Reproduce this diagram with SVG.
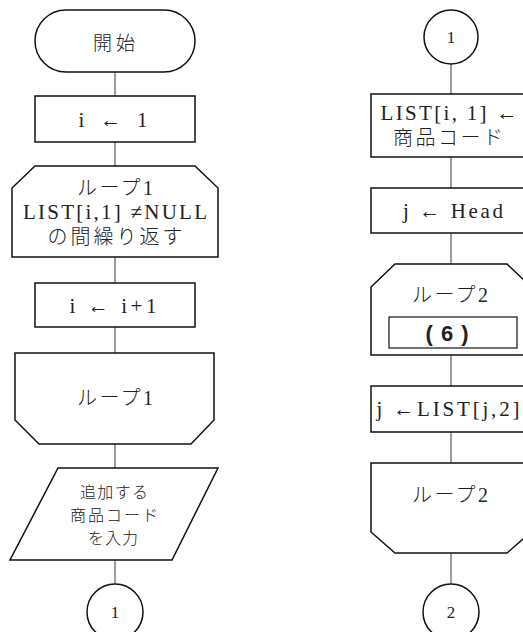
<svg xmlns="http://www.w3.org/2000/svg" width="523" height="632" viewBox="0 0 523 632">
<style>
.s{fill:#fff;stroke:#111;stroke-width:1.5}
.c{stroke:#666;stroke-width:1.3;fill:none}
text{font-family:"Liberation Serif","Noto Sans CJK JP",serif;font-size:20px;font-weight:300;fill:#222;text-anchor:middle;dominant-baseline:central}
.l{font-size:21px}
.g{font-family:"Noto Sans CJK JP",sans-serif;font-size:16px;font-weight:300}
.n{font-size:17px}
.b{font-weight:bold;font-family:"Liberation Sans","Noto Sans CJK JP",sans-serif;font-size:22px}
</style>
<rect width="523" height="632" fill="#fff"/>
<g id="connectors">
<line class="c" x1="115" y1="72" x2="115" y2="96"/>
<line class="c" x1="115" y1="142" x2="115" y2="166"/>
<line class="c" x1="115" y1="257" x2="115" y2="283"/>
<line class="c" x1="115" y1="327" x2="115" y2="353"/>
<line class="c" x1="115" y1="444" x2="115" y2="468"/>
<line class="c" x1="115" y1="560" x2="115" y2="584"/>
<line class="c" x1="451" y1="64" x2="451" y2="94"/>
<line class="c" x1="451" y1="157" x2="451" y2="188"/>
<line class="c" x1="451" y1="233" x2="451" y2="264"/>
<line class="c" x1="451" y1="355" x2="451" y2="386"/>
<line class="c" x1="451" y1="432" x2="451" y2="463"/>
<line class="c" x1="451" y1="553" x2="451" y2="584"/>
</g>
<g id="start">
<rect class="s" x="35" y="10" width="160" height="62" rx="31"/>
<text class="g" style="font-size:19px" x="114" y="41" textLength="42" lengthAdjust="spacing">開始</text>
</g>
<g id="init">
<rect class="s" x="35" y="96" width="160" height="46"/>
<text class="l" x="113" y="120" textLength="69" lengthAdjust="spacing">i ← 1</text>
</g>
<g id="loop1start">
<polygon class="s" points="35,166 195,166 218,188 218,257 12,257 12,188"/>
<text x="115" y="188" textLength="76" lengthAdjust="spacing">ループ1</text>
<text class="l" x="115" y="212" textLength="184" lengthAdjust="spacing">LIST[i,1] ≠NULL</text>
<text x="115" y="237" textLength="135" lengthAdjust="spacing">の間繰り返す</text>
</g>
<g id="incr">
<rect class="s" x="35" y="283" width="160" height="44"/>
<text class="l" x="113" y="306" textLength="87" lengthAdjust="spacing">i ← i+1</text>
</g>
<g id="loop1end">
<polygon class="s" points="15,353 214,353 214,420 191,444 39,444 15,420"/>
<text x="115" y="398" textLength="76" lengthAdjust="spacing">ループ1</text>
</g>
<g id="input">
<polygon class="s" points="58,468 218,468 172,560 10,560"/>
<text class="g" x="114" y="491" textLength="68" lengthAdjust="spacing">追加する</text>
<text class="g" x="114" y="514" textLength="88" lengthAdjust="spacing">商品コード</text>
<text class="g" x="113" y="537" textLength="50" lengthAdjust="spacing">を入力</text>
</g>
<g id="conn1out">
<circle class="s" cx="115" cy="612" r="28"/>
<text class="n" x="115" y="612">1</text>
</g>
<g id="conn1in">
<circle class="s" cx="451" cy="37" r="27"/>
<text class="n" x="451" y="37">1</text>
</g>
<g id="assign">
<rect class="s" x="371" y="94" width="160" height="63"/>
<text class="l" x="449" y="113" textLength="137" lengthAdjust="spacing">LIST[i, 1] ←</text>
<text x="448" y="138" textLength="110" lengthAdjust="spacing">商品コード</text>
</g>
<g id="head">
<rect class="s" x="371" y="188" width="160" height="45"/>
<text class="l" x="453" y="211" textLength="100" lengthAdjust="spacing">j ← Head</text>
</g>
<g id="loop2start">
<polygon class="s" points="395,264 507,264 531,287 531,355 371,355 371,287"/>
<text x="450" y="295" textLength="76" lengthAdjust="spacing">ループ2</text>
<rect x="389" y="317" width="128" height="31" fill="#fff" stroke="#111" stroke-width="1.2"/>
<text class="b" x="447" y="333" textLength="43" lengthAdjust="spacing">(6)</text>
</g>
<g id="next">
<rect class="s" x="371" y="386" width="160" height="46"/>
<text class="l" x="448" y="409" textLength="143" lengthAdjust="spacing">j ←LIST[j,2]</text>
</g>
<g id="loop2end">
<polygon class="s" points="371,463 531,463 531,532 507,553 395,553 371,532"/>
<text x="450" y="495" textLength="76" lengthAdjust="spacing">ループ2</text>
</g>
<g id="conn2">
<circle class="s" cx="451" cy="612" r="28"/>
<text class="n" x="451" y="612">2</text>
</g>
</svg>
